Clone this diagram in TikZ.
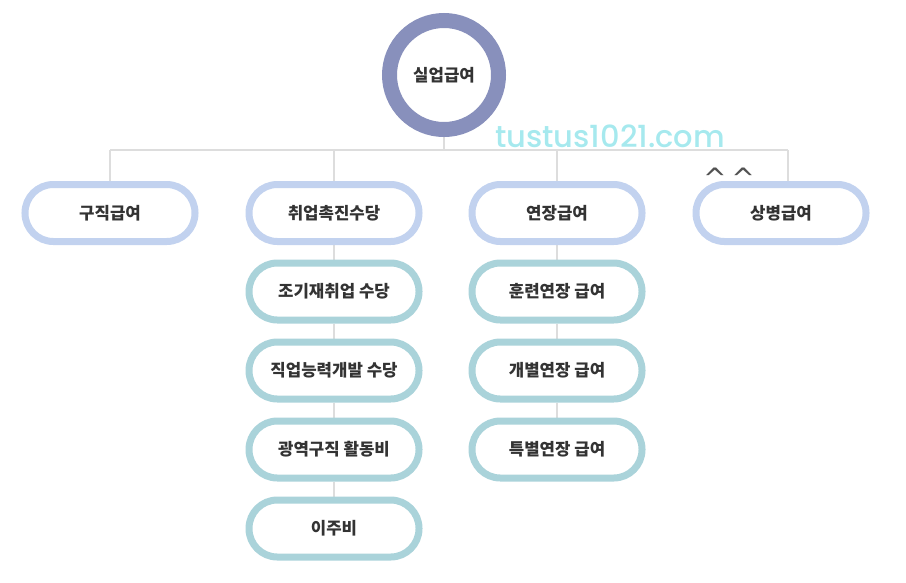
\documentclass[tikz,border=0pt]{standalone}
\usepackage{fontspec}
\setmainfont{Noto Sans CJK KR}
\newfontfamily\wmfont{Poppins Medium}
\newfontfamily\markfont{DejaVu Sans}
\usetikzlibrary{backgrounds}
\definecolor{ringc}{HTML}{8890BC}
\definecolor{topc}{HTML}{C2D2EF}
\definecolor{subc}{HTML}{AAD3DA}
\definecolor{linec}{HTML}{DDDDDD}
\definecolor{txtc}{HTML}{333333}
\definecolor{wmc}{HTML}{A6E9EE}
\begin{document}
\begin{tikzpicture}[x=0.03cm,y=-0.03cm,
  every node/.style={font=\bfseries\fontsize{14.3}{16}\selectfont, text=txtc},
  ring/.style={circle, draw=ringc, line width=0.45cm, fill=white, minimum size=3.27cm},
  topbox/.style={rectangle, rounded corners=0.85cm, draw=topc, line width=0.21cm, fill=white, minimum width=5.1cm, minimum height=1.71cm},
  subbox/.style={topbox, draw=subc},
  conn/.style={draw=linec, line width=0.9pt}]
\useasboundingbox (0,0) rectangle (906,582);
% root
\node[ring] (root) at (444,75) {실업급여};
% first level
\node[topbox] (gujik) at (110,213) {구직급여};
\node[topbox] (chwiup) at (334,213) {취업촉진수당};
\node[topbox] (yeonjang) at (557,213) {연장급여};
\node[topbox] (sangbyeong) at (781,213) {상병급여};
% second level
\node[subbox] (jogi) at (334,291.5) {조기재취업 수당};
\node[subbox] (jigeop) at (334,370.5) {직업능력개발 수당};
\node[subbox] (gwangyeok) at (334,449.5) {광역구직 활동비};
\node[subbox] (iju) at (334,528.5) {이주비};
\node[subbox] (hullyeon) at (557,291.5) {훈련연장 급여};
\node[subbox] (gaebyeol) at (557,370.5) {개별연장 급여};
\node[subbox] (teukbyeol) at (557,449.5) {특별연장 급여};
% connectors
\begin{scope}[on background layer]
\coordinate (busl) at (110,150);
\coordinate (busr) at (788,150);
\draw[conn] (root.south) -- (root.south |- busl);
\draw[conn] (busl) -- (busr);
\draw[conn] (busl) -- (gujik.north);
\draw[conn] (chwiup.north |- busl) -- (chwiup.north);
\draw[conn] (yeonjang.north |- busl) -- (yeonjang.north);
\draw[conn] (busr) -- (busr |- sangbyeong.north);
\draw[conn] (chwiup) -- (jogi) -- (jigeop) -- (gwangyeok) -- (iju);
\draw[conn] (yeonjang) -- (hullyeon) -- (gaebyeol) -- (teukbyeol);
\end{scope}
% marks
\node[font=\markfont\fontsize{24}{24}\selectfont, text=txtc!85, anchor=base] (smile) at (729,188) {\textasciicircum\,\textasciicircum};
\node[font=\wmfont\fontsize{26}{26}\selectfont, text=wmc, anchor=base] (wm) at (610,147) {tustus1021.com};
\end{tikzpicture}
\end{document}
